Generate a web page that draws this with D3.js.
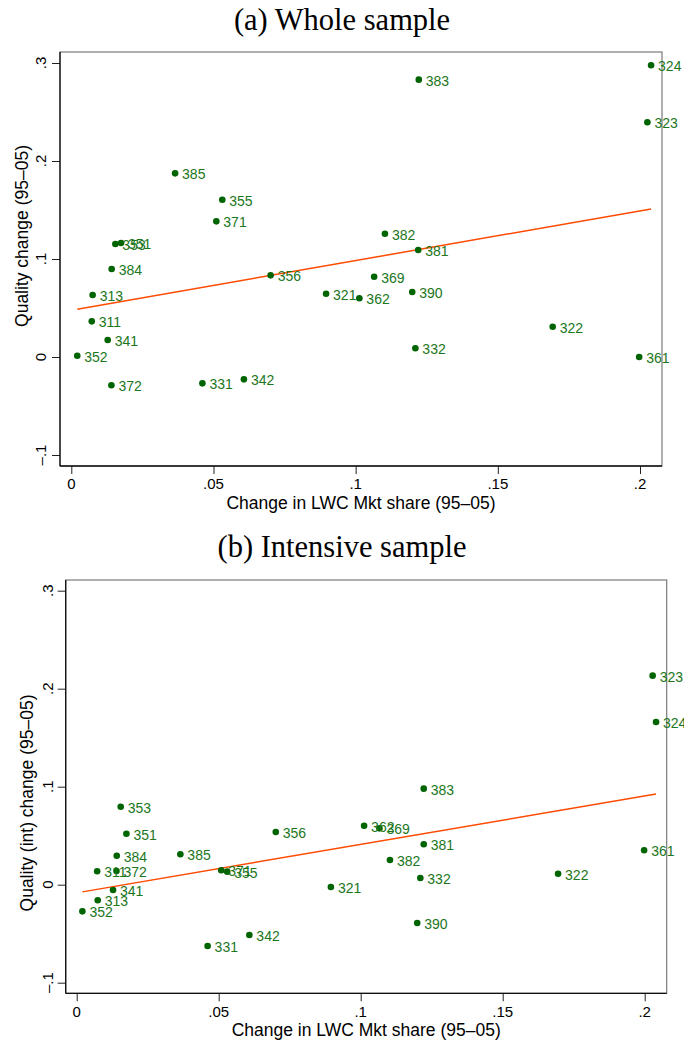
<!DOCTYPE html>
<html>
<head>
<meta charset="utf-8">
<script src="https://cdn.jsdelivr.net/npm/d3@7"></script>
<style>
  html, body { margin: 0; padding: 0; background: #fff; }
  svg { display: block; }
</style>
</head>
<body>
<svg id="chart" width="684" height="1043"></svg>
<script>
// ---------- data ----------
const panelTitles = ["(a) Whole sample", "(b) Intensive sample"];
const xTitle = "Change in LWC Mkt share (95\u201305)";
const yTitles = ["Quality change (95\u201305)", "Quality (int) change (95\u201305)"];
const xTickValues = [0, 0.05, 0.1, 0.15, 0.2];
const xTickLabels = ["0", ".05", ".1", ".15", ".2"];
const yTickValues = [-0.1, 0, 0.1, 0.2, 0.3];
const yTickLabels = ["\u2013.1", "0", ".1", ".2", ".3"];

const codesA = ["385","355","371","353","351","384","356","313","311","341","352","372","331","342","321","362","390","322","332","361","383","324","323","382","381","369"];
const xA = [0.0365,0.0531,0.0510,0.0155,0.0175,0.0142,0.0701,0.0075,0.0072,0.0128,0.0021,0.0141,0.0461,0.0607,0.0896,0.1013,0.1199,0.1693,0.1210,0.1997,0.1222,0.2039,0.2026,0.1103,0.1220,0.1065];
const yA = [0.1874,0.1605,0.1384,0.1153,0.1163,0.0898,0.0833,0.0633,0.0364,0.0173,0.0013,-0.0289,-0.0269,-0.0228,0.0646,0.0599,0.0663,0.0309,0.0089,0.0000,0.2830,0.2977,0.2395,0.1258,0.1092,0.0819];
const fitA = [0.0477, 0.507]; // intercept, slope

const codesB = ["353","351","384","385","356","311","372","341","313","352","371","355","342","331","321","362","369","381","382","332","390","322","361","383","323","324"];
const xB = [0.0155,0.0175,0.0141,0.0365,0.0701,0.0072,0.0140,0.0128,0.0074,0.0020,0.0509,0.0530,0.0608,0.0461,0.0895,0.1012,0.1066,0.1222,0.1103,0.1210,0.1199,0.1695,0.1998,0.1222,0.2028,0.2040];
const yB = [0.0796,0.0520,0.0296,0.0310,0.0538,0.0137,0.0140,-0.0054,-0.0159,-0.0272,0.0147,0.0133,-0.0513,-0.0626,-0.0023,0.0602,0.0575,0.0412,0.0252,0.0068,-0.0391,0.0112,0.0351,0.0980,0.2133,0.1660];
const fitB = [-0.0083, 0.494];

// ---------- layout ----------
const panels = [
  { title: panelTitles[0], yTitle: yTitles[0], codes: codesA, xs: xA, ys: yA, fit: fitA,
    frame: { l: 60, r: 662, t: 52, b: 466 }, xr: [71.3, 640], yr: [357, 63],
    titleY: 30, yTitleX: 22, yTitleY: 236, yTickX: 41, xTickY: 489, xTitleY: 509 },
  { title: panelTitles[1], yTitle: yTitles[1], codes: codesB, xs: xB, ys: yB, fit: fitB,
    frame: { l: 65.7, r: 666.7, t: 580, b: 993.3 }, xr: [76.7, 644.7], yr: [884.7, 590.7],
    titleY: 557, yTitleX: 27, yTitleY: 803, yTickX: 48, xTickY: 1017, xTitleY: 1036 }
];

const svg = d3.select("#chart");
const sans = "Liberation Sans, Arial, sans-serif";
const serif = "Liberation Serif, Times New Roman, serif";
const dotColor = "#006400";
const labelColor = "#1c761c";
const lineColor = "#ff4a00";

panels.forEach(p => {
  const g = svg.append("g");
  const x = d3.scaleLinear().domain([0, 0.2]).range(p.xr);
  const y = d3.scaleLinear().domain([0, 0.3]).range(p.yr);
  const f = p.frame;

  // title
  g.append("text").attr("x", 342).attr("y", p.titleY)
    .attr("text-anchor", "middle").attr("font-family", serif).attr("font-size", 30.5)
    .attr("fill", "#000").text(p.title);

  // plot region frame
  g.append("rect").attr("x", f.l).attr("y", f.t).attr("width", f.r - f.l).attr("height", f.b - f.t)
    .attr("fill", "#fff").attr("stroke", "#7a7a7a").attr("stroke-width", 1.2);

  // y axis
  const yAxis = d3.axisLeft(y).tickValues(yTickValues).tickSize(8).tickFormat("");
  const ya = g.append("g").attr("transform", `translate(${f.l},0)`).call(yAxis);
  ya.select(".domain").remove();
  ya.selectAll(".tick line").attr("stroke", "#222").attr("stroke-width", 1);
  g.append("line").attr("x1", f.l).attr("x2", f.l).attr("y1", f.t).attr("y2", f.b)
    .attr("stroke", "#111").attr("stroke-width", 1.3);
  yTickValues.forEach((v, i) => {
    g.append("text")
      .attr("transform", `translate(${p.yTickX},${y(v)}) rotate(-90)`)
      .attr("text-anchor", "middle").attr("dy", "0.36em")
      .attr("font-family", sans).attr("font-size", 15).attr("fill", "#000")
      .text(yTickLabels[i]);
  });

  // x axis
  const xAxis = d3.axisBottom(x).tickValues(xTickValues).tickSize(8).tickFormat("");
  const xa = g.append("g").attr("transform", `translate(0,${f.b})`).call(xAxis);
  xa.select(".domain").remove();
  xa.selectAll(".tick line").attr("stroke", "#222").attr("stroke-width", 1);
  g.append("line").attr("x1", f.l).attr("x2", f.r).attr("y1", f.b).attr("y2", f.b)
    .attr("stroke", "#111").attr("stroke-width", 1.3);
  xTickValues.forEach((v, i) => {
    g.append("text").attr("x", x(v)).attr("y", p.xTickY)
      .attr("text-anchor", "middle").attr("font-family", sans).attr("font-size", 15)
      .attr("fill", "#000").text(xTickLabels[i]);
  });

  // axis titles
  g.append("text").attr("x", (f.l + f.r) / 2).attr("y", p.xTitleY)
    .attr("text-anchor", "middle").attr("font-family", sans).attr("font-size", 17.5)
    .attr("fill", "#000").text(xTitle);
  g.append("text")
    .attr("transform", `translate(${p.yTitleX},${p.yTitleY}) rotate(-90)`)
    .attr("text-anchor", "middle").attr("dy", "0.36em")
    .attr("font-family", sans).attr("font-size", 17.5).attr("fill", "#000")
    .text(p.yTitle);

  // fitted line
  const x0 = d3.min(p.xs), x1 = d3.max(p.xs);
  const fitPts = [x0, x1].map(v => [v, p.fit[0] + p.fit[1] * v]);
  g.append("path").datum(fitPts)
    .attr("d", d3.line().x(d => x(d[0])).y(d => y(d[1])))
    .attr("fill", "none").attr("stroke", lineColor).attr("stroke-width", 1.5);

  // points
  const data = p.codes.map((c, i) => ({ code: c, x: p.xs[i], y: p.ys[i] }));
  g.selectAll("circle.pt").data(data).enter().append("circle")
    .attr("class", "pt").attr("cx", d => x(d.x)).attr("cy", d => y(d.y)).attr("r", 3.3)
    .attr("fill", dotColor);
  g.selectAll("text.lbl").data(data).enter().append("text")
    .attr("class", "lbl").attr("x", d => x(d.x) + 7).attr("y", d => y(d.y) + 6)
    .attr("font-family", sans).attr("font-size", 14).attr("fill", labelColor)
    .text(d => d.code);
});
</script>
</body>
</html>
